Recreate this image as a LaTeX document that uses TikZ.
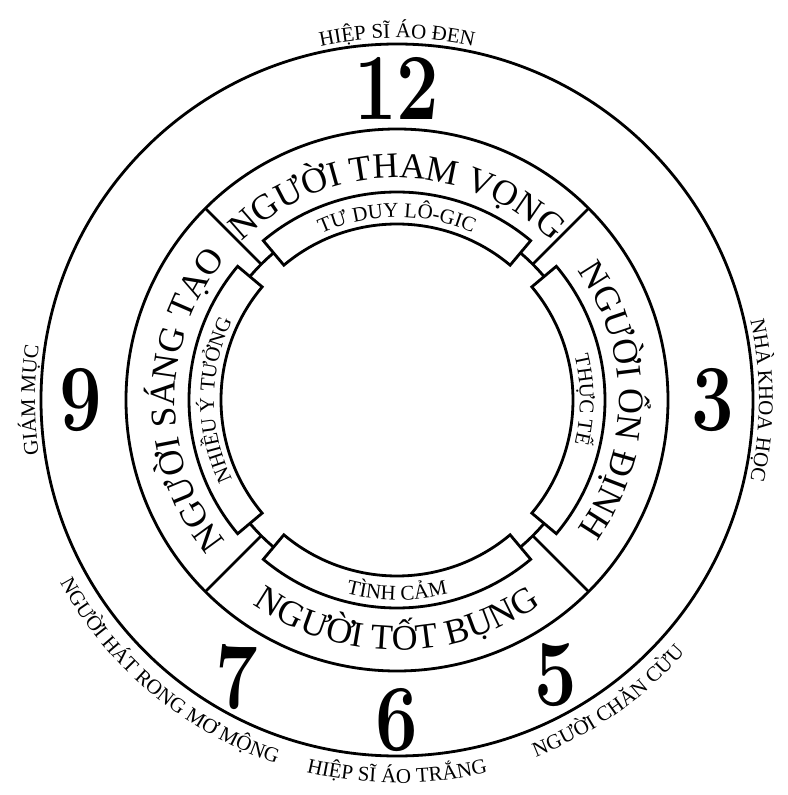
\documentclass[tikz,border=0pt]{standalone}
\usepackage{fontspec}
\usepackage{graphicx}
\usetikzlibrary{decorations.text}
\newfontfamily\vnfont{Liberation Serif}
\newcommand{\sectorfont}{\vnfont\fontsize{36}{36}\selectfont}
\newcommand{\tagfont}{\vnfont\fontsize{21}{21}\selectfont}
\newcommand{\rimfont}{\vnfont\fontsize{21}{21}\selectfont}

\begin{document}
\begin{tikzpicture}[
    x=1bp, y=1bp,
    rim/.style={line width=2.8bp},
    slot/.style={rim, fill=white},
    digit/.style={font=\fontsize{95}{95}\selectfont\bfseries, inner sep=0pt},
    onarc/.style={decorate, decoration={text along path, text align=center, text={#1}}}
]
\useasboundingbox (-397,-395) rectangle (391,400);
\coordinate (c) at (0,0);

% circles
\draw[rim] (c) circle[radius=356];
\draw[rim] (c) circle[radius=271];
\draw[rim] (c) circle[radius=192];

% dividers
\foreach \a in {45,135,225,315}
  \draw[rim] (\a:192) -- (\a:271);

% inner slots
\foreach \a in {0,90,180,270}
  \draw[slot] ({\a-40}:176) -- ({\a-40}:208) arc[start angle=\a-40, end angle=\a+40, radius=208]
    -- ({\a+40}:176) arc[start angle=\a+40, end angle=\a-40, radius=176] -- cycle;

% sector names
\path[onarc={|\sectorfont|NGƯỜI THAM VỌNG}] (150:222) arc[start angle=150, end angle=30, radius=222];
\path[onarc={|\sectorfont|NGƯỜI ỔN ĐỊNH}] (60:222) arc[start angle=60, end angle=-60, radius=222];
\path[onarc={|\sectorfont|NGƯỜI SÁNG TẠO}] (240:222) arc[start angle=240, end angle=120, radius=222];
\path[onarc={|\sectorfont|NGƯỜI TỐT BỤNG}] (-150:250) arc[start angle=-150, end angle=-30, radius=250];

% slot names
\path[onarc={|\tagfont|TƯ DUY LÔ-GIC}] (140:183) arc[start angle=140, end angle=40, radius=183];
\path[onarc={|\tagfont|THỰC TẾ}] (50:183) arc[start angle=50, end angle=-50, radius=183];
\path[onarc={|\tagfont|NHIỀU Ý TƯỞNG}] (230:183) arc[start angle=230, end angle=130, radius=183];
\path[onarc={|\tagfont|TÌNH CẢM}] (-130:200) arc[start angle=-130, end angle=-50, radius=200];

% outer names
\path[onarc={|\rimfont|HIỆP SĨ ÁO ĐEN}] (130:362) arc[start angle=130, end angle=50, radius=362];
\path[onarc={|\rimfont|NHÀ KHOA HỌC}] (40:362) arc[start angle=40, end angle=-40, radius=362];
\path[onarc={|\rimfont|GIÁM MỤC}] (220:362) arc[start angle=220, end angle=140, radius=362];
\path[onarc={|\rimfont|HIỆP SĨ ÁO TRẮNG}] (-130:383) arc[start angle=-130, end angle=-50, radius=383];
\path[onarc={|\rimfont|NGƯỜI CHĂN CỪU}] (-95:383) arc[start angle=-95, end angle=-15, radius=383];
\path[onarc={|\rimfont|NGƯỜI HÁT RONG MƠ MỘNG}] (-175:383) arc[start angle=-175, end angle=-85, radius=383];

% clock numbers
\node[digit] (n12) at (90:312) {\scalebox{0.8}[1]{12}};
\node[digit] (n3) at (0:316) {\scalebox{0.8}[1]{3}};
\node[digit] (n9) at (180:316) {\scalebox{0.8}[1]{9}};
\node[digit] (n5) at (-60:318) {\scalebox{0.8}[1]{5}};
\node[digit] (n6) at (-90:320) {\scalebox{0.8}[1]{6}};
\node[digit] (n7) at (-120:320) {\scalebox{0.8}[1]{7}};

\end{tikzpicture}
\end{document}
